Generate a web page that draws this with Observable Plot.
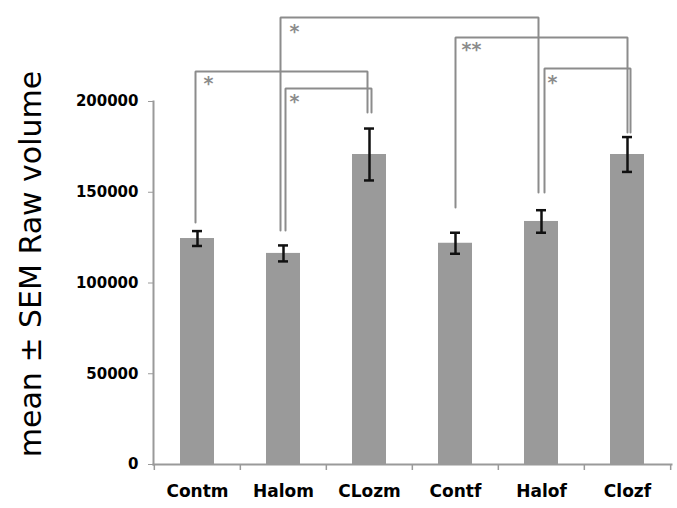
<!DOCTYPE html>
<html><head><meta charset="utf-8">
<script src="https://cdn.jsdelivr.net/npm/d3@7"></script>
<script src="https://cdn.jsdelivr.net/npm/@observablehq/plot@0.6"></script>
<style>body{margin:0;background:#fff}</style>
</head><body><div id="chart"></div>
<script>
// ---- data ----
const categories = ["Contm", "Halom", "CLozm", "Contf", "Halof", "Clozf"];
const means = [124500, 116300, 170800, 121900, 133900, 170800];
const sems = [4100, 4400, 14300, 5800, 6200, 9600];
const yTicks = [0, 50000, 100000, 150000, 200000];
const yTitle = "mean ± SEM Raw volume";
// significance brackets
const bracketFrom = ["Contm", "Halom", "Halom", "Contf", "Halof"];
const bracketTo = ["CLozm", "CLozm", "Halof", "Clozf", "Clozf"];
const bracketLevel = [216500, 207200, 246300, 235300, 218200];
const bracketDropFrom = [133300, 128900, 128900, 141600, 149900];
const bracketDropTo = [194000, 194000, 149900, 182900, 182900];
const bracketLabels = ["*", "*", "*", "**", "*"];
const bracketLabelLevel = [209500, 200000, 238500, 228500, 210000];

// ---- layout / style ----
const W = 677, H = 508;
const mL = 153, mR = 6, mT = 101, mB = 44;
const step = (W - mL - mR) / categories.length;
const perPx = 200000 / (H - mT - mB);
const nudge = [-2, 2, -3, 0, 3];
const gray = "#9a9a9a", lineGray = "#8c8c8c";

const bars = categories.map((c, i) => ({cat: c, mean: means[i], sem: sems[i]}));

const bracketMarks = bracketFrom.map((f, i) => Plot.line([
  {x: f, y: bracketDropFrom[i]},
  {x: f, y: bracketLevel[i]},
  {x: bracketTo[i], y: bracketLevel[i]},
  {x: bracketTo[i], y: bracketDropTo[i]}
], {x: "x", y: "y", stroke: lineGray, strokeWidth: 2, strokeLinejoin: "miter", dx: nudge[i]}));

const labels = bracketFrom.map((f, i) => ({x: f, y: bracketLabelLevel[i], t: bracketLabels[i]}));

const chart = Plot.plot({
  width: W, height: H,
  marginLeft: mL, marginRight: mR, marginTop: mT, marginBottom: mB,
  style: {fontFamily: "DejaVu Sans", background: "#fff", color: "#000"},
  x: {domain: categories, paddingInner: 0.6, paddingOuter: 0.3},
  y: {domain: [0, 200000]},
  marks: [
    Plot.barY(bars, {x: "cat", y: "mean", fill: gray}),
    Plot.ruleX(bars, {x: "cat", y1: d => d.mean - d.sem, y2: d => d.mean + d.sem, stroke: "#111", strokeWidth: 2.5}),
    Plot.tickY(bars, {x: "cat", y: d => d.mean + d.sem, stroke: "#111", strokeWidth: 2.5, insetLeft: 12, insetRight: 12}),
    Plot.tickY(bars, {x: "cat", y: d => d.mean - d.sem, stroke: "#111", strokeWidth: 2.5, insetLeft: 12, insetRight: 12}),
    Plot.frame({anchor: "left", stroke: gray, strokeWidth: 2}),
    Plot.frame({anchor: "bottom", stroke: gray, strokeWidth: 2}),
    Plot.ruleX(categories, {x: d => d, y1: 0, y2: -6 * perPx, dx: -step / 2, stroke: gray, strokeWidth: 1.5}),
    Plot.ruleX([categories[categories.length - 1]], {x: d => d, y1: 0, y2: -6 * perPx, dx: step / 2, stroke: gray, strokeWidth: 1.5}),
    Plot.axisY({ticks: yTicks, tickSize: 5, tickPadding: 10, tickFormat: d => String(d), fontSize: 15, fontWeight: "bold", stroke: gray, fill: "#000", label: null}),
    Plot.axisX({tickSize: 0, tickPadding: 20, fontSize: 17, fontWeight: "bold", fill: "#000", label: null}),
    ...bracketMarks,
    Plot.text(labels, {x: "x", y: "y", text: "t", dx: 6, textAnchor: "start", lineAnchor: "middle", fontSize: 19, fontWeight: "bold", fill: lineGray}),
    Plot.text([yTitle], {frameAnchor: "left", textAnchor: "middle", rotate: -90, dx: -122, dy: -19, fontSize: 30, fill: "#000", text: d => d})
  ]
});
document.getElementById("chart").appendChild(chart);
</script>
</body></html>
